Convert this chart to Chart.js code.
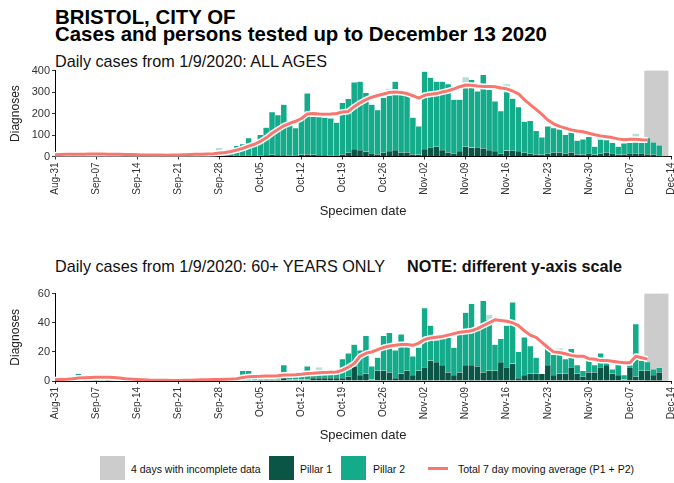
<!DOCTYPE html>
<html><head><meta charset="utf-8">
<script src="https://cdn.jsdelivr.net/npm/chart.js@4.4.0/dist/chart.umd.min.js"></script>
<style>
html,body{margin:0;padding:0;background:#fff;}
body{width:674px;height:483px;position:relative;overflow:hidden;font-family:"Liberation Sans",Arial,sans-serif;}
.t{position:absolute;white-space:nowrap;color:#000;}
.h{font-size:20.4px;line-height:20px;font-weight:bold;}
.s{font-size:16.2px;line-height:16px;color:#111;}
.l{font-size:10.5px;line-height:10.5px;color:#111;}
.box{position:absolute;width:25px;height:24px;}
canvas{position:absolute;left:0;}
</style></head><body>
<div class="t h" style="left:55px;top:6.5px;">BRISTOL, CITY OF</div>
<div class="t h" style="left:55px;top:24px;">Cases and persons tested up to December 13 2020</div>
<div class="t s" style="left:55px;top:53px;">Daily cases from 1/9/2020: ALL AGES</div>
<div class="t s" style="left:55px;top:258px;">Daily cases from 1/9/2020: 60+ YEARS ONLY</div>
<div class="t s" style="left:407px;top:258px;font-weight:bold;">NOTE: different y-axis scale</div>

<canvas id="c1" width="674" height="160" style="top:62px;"></canvas>
<canvas id="c2" width="674" height="161" style="top:285px;"></canvas>

<div class="box" style="left:100px;top:456px;background:#cccccc;"></div>
<div class="t l" style="left:131px;top:464px;">4 days with incomplete data</div>
<div class="box" style="left:269px;top:456px;background:#0b5547;"></div>
<div class="t l" style="left:300px;top:464px;">Pillar 1</div>
<div class="box" style="left:341px;top:456px;background:#14ab8b;"></div>
<div class="t l" style="left:373px;top:464px;">Pillar 2</div>
<div style="position:absolute;left:428px;top:466.5px;width:20px;height:3px;background:#f8766d;"></div>
<div class="t l" style="left:458px;top:464px;">Total 7 day moving average (P1 + P2)</div>

<script>
// ---- categories ----
const startDate = [2020, 7, 31];      // Aug 31 2020
const dayCount = 106;                 // Aug 31 .. Dec 14
const incompleteDays = ['Dec-10', 'Dec-11', 'Dec-12', 'Dec-13'];

// ---- ALL AGES (index 0 = Aug 31) ----
const allPillar1 = [0,
  2,1,2,1,2,3,2,  2,1,1,1,0,1,1,  1,0,1,1,0,1,1,  1,2,1,2,1,2,3,
  2,2,3,4,3,2,5,  6,8,6,7,5,4,8,  10,8,6,7,5,4,10, 18,35,30,22,12,10,18,
  25,30,18,20,10,8,35, 40,45,30,20,15,25,45, 42,40,38,30,25,15,28, 27,25,18,15,10,8,15,
  20,18,15,20,10,8,12, 8,15,20,12,8,10,12, 15,12,10,8,5,0];
const allPillar2 = [0,
  6,9,10,8,9,11,8,  11,8,7,6,6,8,4,  5,7,4,7,6,6,8,  9,10,10,12,12,13,19,
  12,14,47,54,83,64,96,  129,199,187,235,145,128,176,  284,177,178,174,173,154,240,  250,310,319,274,230,206,255,
  259,319,270,268,171,133,360,  328,304,319,317,250,240,274,  315,263,342,281,232,196,272,  243,205,144,151,110,81,126,
  112,109,86,92,64,72,80,  38,63,57,52,38,51,52,  49,52,76,58,47,0];
const allRecentDates = ['Sep-28', 'Oct-27', 'Nov-09', 'Nov-16', 'Dec-02', 'Dec-08'];
const allRecentValues = [16, 30, 48, 35, 28, 40];
const allAverage = [8,
  9,10,10,11,11,12,12,  12,11,10,10,9,9,8,  7,7,7,7,6,7,7,  8,9,10,11,12,13,16,
  19,23,30,38,48,57,70,  87,108,126,143,154,164,177,  198,200,198,197,198,200,207,  210,232,250,265,276,284,291,
  298,300,298,293,283,272,285,  290,293,300,306,315,325,333,  332,328,326,326,325,319,315,  305,292,265,242,219,196,170,
  152,140,132,124,119,115,108,  101,96,92,88,82,78,80,  80,78,77];
const allTicks = [0, 100, 200, 300, 400];

// ---- 60+ YEARS (index 0 = Aug 31) ----
const oldPillar1 = [0,
  0,0,0,0,1,0,1,  0,1,0,0,0,0,0,  0,0,0,0,0,0,0,  0,0,0,0,0,0,0,
  0,0,0,0,0,0,1,  1,1,1,2,1,1,1,  1,2,2,2,2,2,2,  3,10,4,5,1,7,7,
  6,2,5,7,4,7,9,  14,13,11,6,4,6,11,  11,10,6,7,7,13,9,  12,2,4,5,5,5,11,
  4,5,5,9,5,3,6,  6,9,11,5,4,1,9,  3,7,7,4,6,0];
const oldPillar2 = [0,
  0,0,0,5,2,2,2,  2,1,3,1,1,1,1,  0,1,0,0,1,0,0,  1,0,1,1,0,1,1,
  1,1,1,7,7,2,1,  2,2,2,9,3,3,3,  9,3,4,4,4,4,13,  16,15,17,26,9,9,24,
  27,19,27,17,13,16,41,  24,15,18,24,19,26,36,  42,26,49,35,18,16,29,  42,18,26,19,11,0,11,
  14,13,10,13,6,4,8,  5,10,2,3,7,3,2,  36,7,6,4,3,0];
const oldRecentDates = ['Sep-02', 'Oct-15', 'Nov-13', 'Nov-25'];
const oldRecentValues = [2, 3, 3, 4];
const oldAverage = [0.8,
  1,1.2,1.5,2,2.2,2.4,2.5,  2.5,2.5,2.4,2,1.6,1.3,1.1,  0.9,0.7,0.6,0.5,0.5,0.4,0.4,  0.5,0.6,0.7,0.8,0.9,1,1.1,
  1.2,1.3,1.6,2.4,3,3.1,3.2,  3.4,3.5,3.6,4.1,4.2,4.3,4.6,  5.2,5.3,5.6,5.8,6,6.2,7.5,  9.5,12,17,19,20,21.5,23,
  24,24.5,25,25,24.5,26,28.5,  29.5,30,30.5,31.5,32.5,33.5,34,  34.5,36,38,40,42,41.5,41,  40,38,34.5,31.5,30,26.5,23,
  20,19.5,18.7,17.6,17,17,15.3,  15,14,14,13.5,13,12.6,12.6,  17,16,15];
const oldTicks = [0, 10, 20, 30, 40, 50, 60];

// ---- styling ----
const DARK = '#0b5547', GREEN = '#14ab8b', LIGHT = '#b3e2d4', GREY = '#cccccc', RED = '#f8766d';
const FAMILY = "'Liberation Sans', Arial, sans-serif";
Chart.defaults.font.family = FAMILY;

const MONTHS = ['Jan','Feb','Mar','Apr','May','Jun','Jul','Aug','Sep','Oct','Nov','Dec'];
const dayLabels = [];
for (let i = 0; i < dayCount; i++) {
  const d = new Date(Date.UTC(startDate[0], startDate[1], startDate[2] + i));
  dayLabels.push(MONTHS[d.getUTCMonth()] + '-' + String(d.getUTCDate()).padStart(2, '0'));
}

function sparse(dates, values) {
  return dayLabels.map(l => { const k = dates.indexOf(l); return k >= 0 ? values[k] : null; });
}

function build(id, p1, p2, recentD, recentV, avg, ticks, axisH) {
  const yMax = ticks[ticks.length - 1];
  const step = ticks[1] - ticks[0];
  const grey = dayLabels.map(l => incompleteDays.includes(l) ? yMax : null);
  const barCommon = { grouped: false, categoryPercentage: 1, barPercentage: 1, borderWidth: 0 };
  const edge = { borderColor: 'rgba(255,255,255,0.45)', borderWidth: {left: 0.5, right: 0.5, top: 0.5, bottom: 0}, grouped: false, categoryPercentage: 1, barPercentage: 1 };
  new Chart(document.getElementById(id), {
    type: 'bar',
    data: {
      labels: dayLabels,
      datasets: [
        { type: 'line', data: avg, borderColor: RED, borderWidth: 3, pointRadius: 0, stack: 'ma', order: 0, borderJoinStyle: 'round' },
        { type: 'line', data: avg, borderColor: '#ffffff', borderWidth: 6, pointRadius: 0, stack: 'halo', order: 1, borderJoinStyle: 'round' },
        Object.assign({ data: p1, backgroundColor: DARK, stack: 'cases', order: 2 }, edge),
        Object.assign({ data: p2, backgroundColor: GREEN, stack: 'cases', order: 2 }, edge),
        Object.assign({ data: sparse(recentD, recentV), backgroundColor: LIGHT, stack: 'cases', order: 2 }, barCommon),
        Object.assign({ data: grey, backgroundColor: GREY, stack: 'grey', order: 5 }, barCommon)
      ]
    },
    options: {
      responsive: false, animation: false, devicePixelRatio: 1,
      layout: { padding: { top: 7, right: 3, left: 0, bottom: 0 } },
      plugins: { legend: { display: false }, tooltip: { enabled: false } },
      scales: {
        x: {
          type: 'category', offset: false,
          ticks: {
            autoSkip: false, maxRotation: 90, minRotation: 90, color: '#333', padding: 3,
            font: { size: 10, family: FAMILY },
            callback: (v, i) => (i % 7 === 0 ? dayLabels[i] : '')
          },
          grid: { drawOnChartArea: false, tickLength: 3, offset: false,
                  color: ctx => (ctx.index % 7 === 0 ? '#333' : 'rgba(0,0,0,0)') },
          border: { display: true, color: '#000', width: 1 },
          title: { display: true, text: 'Specimen date', color: '#222', font: { size: 13, family: FAMILY }, padding: { top: 0, bottom: 3 } },
          afterFit: s => { s.height = axisH; s.paddingLeft = 0; s.paddingRight = 0; }
        },
        y: {
          stacked: true, min: 0, max: yMax,
          afterBuildTicks: s => { s.ticks = ticks.map(v => ({ value: v })); },
          ticks: { stepSize: step, color: '#333', padding: 2, font: { size: 11, family: FAMILY } },
          grid: { drawOnChartArea: false, tickLength: 3, color: '#333' },
          border: { display: true, color: '#000', width: 1 },
          title: { display: true, text: 'Diagnoses', color: '#222', font: { size: 12, family: FAMILY }, padding: { top: 8, bottom: 0 } },
          afterFit: s => { s.width = 55; }
        }
      }
    }
  });
}

build('c1', allPillar1, allPillar2, allRecentDates, allRecentValues, allAverage, allTicks, 65.5);
build('c2', oldPillar1, oldPillar2, oldRecentDates, oldRecentValues, oldAverage, oldTicks, 65);
</script>
</body></html>
